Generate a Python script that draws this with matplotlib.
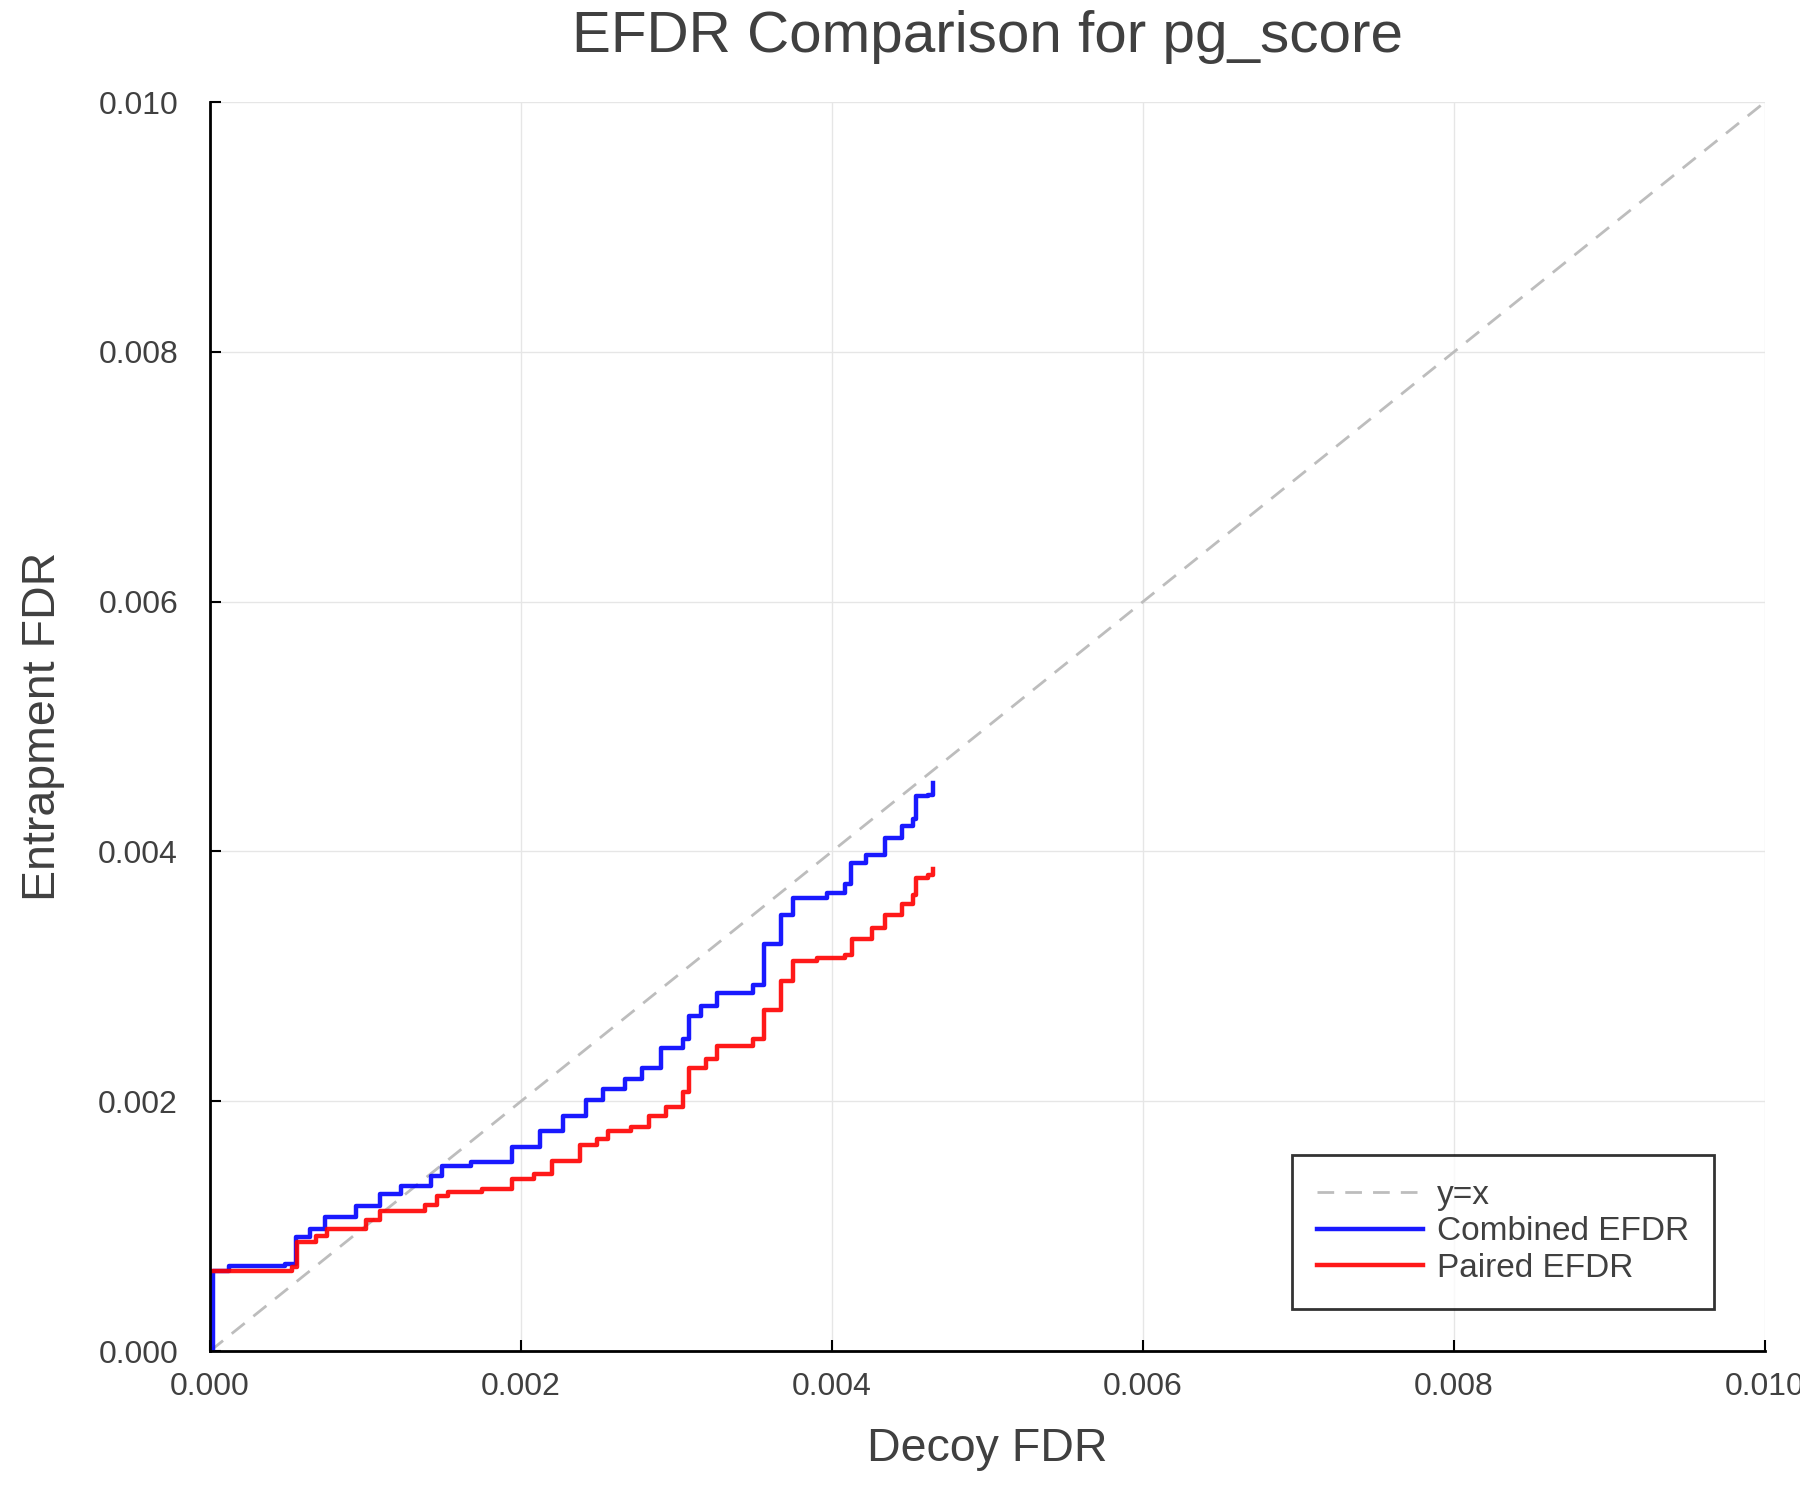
import numpy as np
import matplotlib
matplotlib.use("Agg")
from matplotlib import pyplot as plt
from matplotlib.ticker import FormatStrFormatter

# (decoy FDR, entrapment FDR), step curves
comb_x = [0.00002, 0.00002, 0.000125, 0.00048, 0.00055, 0.00064, 0.00074, 0.00094, 0.00109, 0.00123,
          0.00142, 0.00149, 0.00168, 0.00194, 0.00212, 0.00227, 0.00242, 0.00253, 0.00267, 0.00278,
          0.0029, 0.00304, 0.00308, 0.00316, 0.00326, 0.00349, 0.00356, 0.00367, 0.00375, 0.00397,
          0.00408, 0.00412, 0.00422, 0.00434, 0.00445, 0.00452, 0.00454, 0.00462, 0.00465]
comb_y = [0.0, 0.000643, 0.00068, 0.0007, 0.00091, 0.00098, 0.00107, 0.00116, 0.00126, 0.00132,
          0.0014, 0.00148, 0.00151, 0.00163, 0.00176, 0.00188, 0.00201, 0.0021, 0.00218, 0.00227,
          0.00243, 0.0025, 0.00268, 0.00276, 0.00287, 0.00293, 0.00326, 0.00349, 0.00363, 0.00367,
          0.00374, 0.00391, 0.00397, 0.00411, 0.0042, 0.00426, 0.00444, 0.00445, 0.00455]

pair_x = [0.00002, 0.00053, 0.00056, 0.00068, 0.00075, 0.001, 0.00109, 0.00138, 0.00146, 0.00153,
          0.00175, 0.00194, 0.00208, 0.0022, 0.00238, 0.00249, 0.00256, 0.00271, 0.00282, 0.00293,
          0.00304, 0.00308, 0.00319, 0.00326, 0.00349, 0.00356, 0.00367, 0.00375, 0.0039, 0.00408,
          0.00413, 0.00426, 0.00434, 0.00445, 0.00452, 0.00454, 0.00462, 0.00465]
pair_y = [0.00064, 0.00067, 0.00087, 0.00092, 0.00098, 0.00105, 0.00112, 0.00117, 0.00124, 0.00127,
          0.0013, 0.00138, 0.00142, 0.00152, 0.00165, 0.0017, 0.00176, 0.00179, 0.00188, 0.00195,
          0.00207, 0.00227, 0.00234, 0.00244, 0.0025, 0.00273, 0.00296, 0.00312, 0.00315, 0.00317,
          0.0033, 0.00339, 0.00349, 0.00358, 0.00365, 0.00379, 0.00381, 0.00386]

lim = [0.0, 0.01]
ticks = [0.0, 0.002, 0.004, 0.006, 0.008, 0.01]

txt = "#404040"
plt.rcParams['font.family'] = ['Liberation Sans', 'DejaVu Sans']

fig = plt.figure(figsize=(18, 15), dpi=100)
ax = fig.add_axes([0.1167, 0.0993, 0.8639, 0.8327])

ax.plot(lim, lim, color="#bdbdbd", linestyle=(0, (6, 4)), linewidth=2, label="y=x")
ax.plot(comb_x, comb_y, color="blue", alpha=0.9, linewidth=3.2, drawstyle="steps-post", label="Combined EFDR")
ax.plot(pair_x, pair_y, color="red", alpha=0.9, linewidth=3.2, drawstyle="steps-post", label="Paired EFDR")

ax.set_xlim(lim)
ax.set_ylim(lim)
ax.set_xticks(ticks)
ax.set_yticks(ticks)
ax.xaxis.set_major_formatter(FormatStrFormatter('%.3f'))
ax.yaxis.set_major_formatter(FormatStrFormatter('%.3f'))
ax.tick_params(direction='in', length=8, width=1.5, labelsize=23, labelcolor=txt)
ax.tick_params(axis='x', pad=15)
ax.tick_params(axis='y', pad=23)
ax.grid(True, color="#e6e6e6", linewidth=1)
for s in ['top', 'right']:
    ax.spines[s].set_visible(False)
for s in ['left', 'bottom']:
    ax.spines[s].set_linewidth(2)

ax.set_title("EFDR Comparison for pg_score", fontsize=42, color=txt, pad=36)
ax.set_xlabel("Decoy FDR", fontsize=33.5, color=txt, labelpad=18)
ax.set_ylabel("Entrapment FDR", fontsize=33.5, color=txt, labelpad=24)

leg = ax.legend(loc="lower right", bbox_to_anchor=(0.967, 0.034), fontsize=24, frameon=True, fancybox=False,
                handlelength=3.2, borderpad=0.75, labelspacing=0.16, handletextpad=0.4, borderaxespad=0)
leg.get_frame().set_edgecolor("black")
leg.get_frame().set_linewidth(2)
for t in leg.get_texts():
    t.set_color(txt)

fig.savefig("out.png", dpi=100)
